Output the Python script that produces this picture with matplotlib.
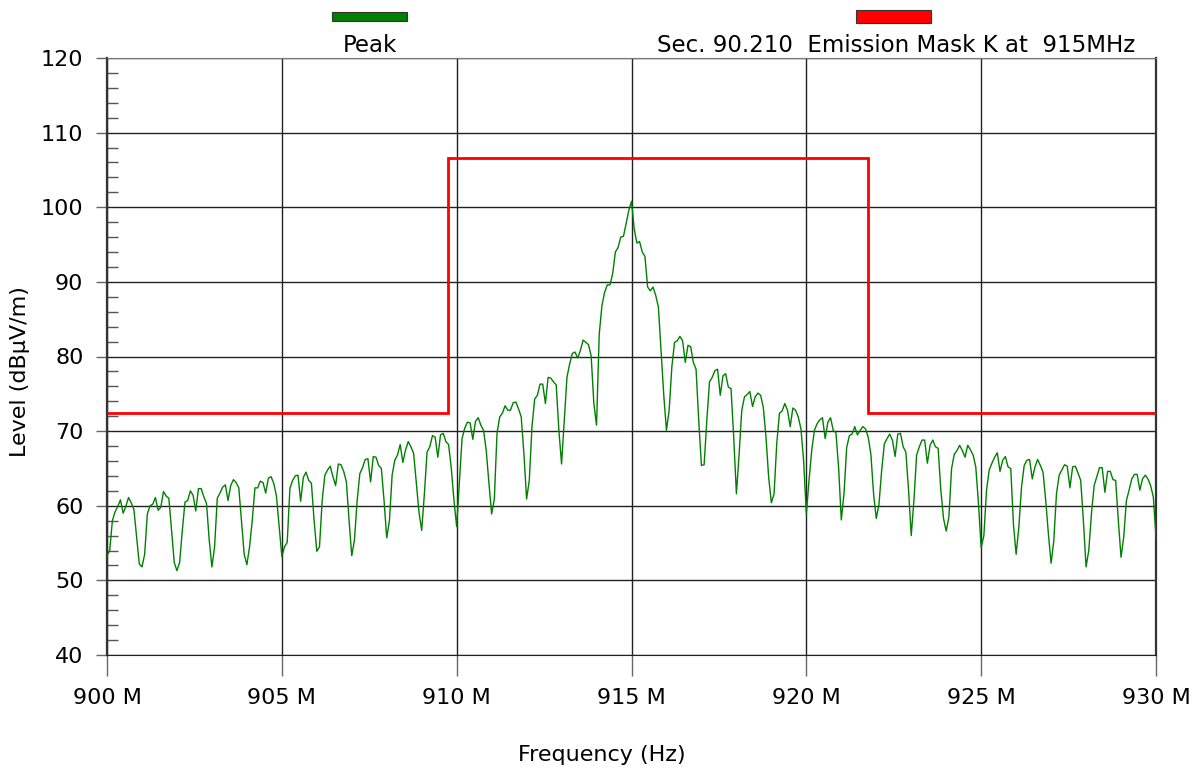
import matplotlib
matplotlib.use('Agg')
import matplotlib.pyplot as plt
from matplotlib.patches import Rectangle
from matplotlib.ticker import MultipleLocator, FuncFormatter
import numpy as np

# sweep 900 - 930 MHz, 13 points per MHz (peak detector trace, dBuV/m)
start_mhz = 900.0
stop_mhz = 930.0
peak_level = [
    53.3, 54.0, 58.0, 59.2, 59.9, 60.8, 59.0, 59.9, 61.1, 60.4, 59.5, 55.8, 52.2,   # 900
    51.8, 53.5, 58.9, 60.0, 60.2, 61.1, 59.4, 59.8, 61.9, 61.3, 61.0, 56.7, 52.4,   # 901
    51.3, 52.4, 56.7, 60.5, 60.7, 62.0, 61.4, 59.3, 62.3, 62.3, 61.2, 60.3, 55.4,   # 902
    51.8, 54.5, 61.0, 61.7, 62.5, 62.8, 60.7, 62.7, 63.5, 63.1, 62.4, 58.0, 53.5,   # 903
    52.1, 54.5, 58.0, 62.4, 62.4, 63.3, 63.1, 61.7, 63.7, 63.9, 63.0, 61.3, 57.2,   # 904
    53.2, 54.5, 55.1, 62.3, 63.4, 64.0, 64.1, 60.6, 63.8, 64.5, 63.4, 63.0, 58.0,   # 905
    53.9, 54.5, 60.7, 64.1, 64.8, 65.3, 63.9, 62.7, 65.6, 65.5, 64.6, 63.2, 58.0,   # 906
    53.3, 55.4, 60.7, 64.3, 65.1, 66.2, 66.3, 63.2, 66.6, 66.5, 65.4, 65.0, 60.7,   # 907
    55.7, 58.0, 64.1, 66.1, 66.8, 68.2, 65.8, 67.5, 68.6, 67.9, 67.0, 63.0, 59.1,   # 908
    56.7, 61.6, 67.2, 67.9, 69.4, 69.2, 66.5, 69.5, 69.7, 68.6, 68.2, 65.0, 60.7,   # 909
    57.2, 63.0, 69.0, 70.4, 71.2, 71.1, 68.9, 71.3, 71.8, 70.8, 70.1, 67.4, 63.0,   # 910
    58.9, 60.9, 69.7, 71.9, 72.4, 73.4, 72.8, 72.8, 73.8, 73.9, 73.0, 71.9, 67.0,   # 911
    60.9, 63.4, 70.6, 74.3, 74.8, 76.3, 76.3, 73.7, 77.2, 77.1, 76.6, 76.2, 70.1,   # 912
    65.6, 71.5, 77.2, 79.0, 80.4, 80.6, 79.8, 80.8, 82.2, 81.9, 81.6, 80.1, 73.7,   # 913
    70.8, 83.0, 86.8, 88.6, 89.6, 89.6, 91.1, 94.0, 94.6, 96.0, 96.1, 97.8, 99.6,   # 914
    100.8, 97.1, 95.2, 95.4, 94.0, 93.4, 89.3, 88.8, 89.3, 88.2, 86.6, 80.8, 74.8,  # 915
    70.1, 72.8, 78.6, 81.9, 82.1, 82.7, 82.1, 79.2, 81.5, 81.3, 79.2, 78.3, 71.4,   # 916
    65.4, 65.5, 71.4, 76.6, 77.2, 78.1, 78.3, 74.8, 77.4, 77.7, 75.9, 75.7, 69.2,   # 917
    61.6, 66.9, 72.8, 74.6, 74.9, 75.3, 73.3, 74.6, 75.1, 74.8, 73.2, 69.2, 63.8,   # 918
    60.4, 61.6, 68.3, 72.4, 72.7, 73.7, 72.8, 70.6, 73.1, 72.8, 71.9, 70.3, 66.0,   # 919
    58.9, 63.4, 67.4, 70.1, 71.0, 71.5, 71.8, 69.0, 71.2, 71.8, 70.1, 69.8, 65.1,   # 920
    58.1, 61.6, 67.8, 69.4, 69.6, 70.6, 69.5, 70.1, 70.6, 70.3, 69.2, 66.9, 61.6,   # 921
    58.3, 60.2, 64.7, 68.3, 69.0, 69.6, 68.8, 66.6, 69.6, 69.7, 67.9, 67.2, 62.1,   # 922
    56.0, 60.7, 66.8, 67.9, 68.8, 68.8, 65.7, 68.1, 68.8, 67.9, 67.7, 62.1, 58.3,   # 923
    56.6, 58.5, 65.0, 66.9, 67.4, 68.1, 67.4, 66.5, 68.1, 67.5, 66.8, 65.2, 60.3,   # 924
    54.4, 56.0, 62.1, 64.8, 65.7, 66.5, 67.1, 64.6, 66.1, 66.6, 65.2, 65.0, 57.5,   # 925
    53.5, 57.1, 62.5, 65.4, 66.1, 66.2, 63.6, 65.2, 66.2, 65.4, 64.5, 60.7, 56.2,   # 926
    52.3, 55.3, 61.6, 64.1, 64.8, 65.5, 65.3, 62.4, 65.2, 65.3, 64.4, 63.4, 58.0,   # 927
    51.8, 54.0, 58.9, 62.7, 63.9, 65.1, 65.1, 61.8, 64.6, 64.6, 63.5, 63.4, 58.0,   # 928
    53.1, 55.8, 60.7, 62.1, 63.6, 64.2, 64.2, 62.1, 63.6, 64.1, 63.6, 62.7, 61.2,   # 929
    55.8,
]

# Sec. 90.210 mask K
mask_edges = [900.0, 909.75, 921.75, 930.0]
mask_levels = [72.45, 106.55, 72.45]

x_ticks = [900, 905, 910, 915, 920, 925, 930]
y_ticks = [40, 50, 60, 70, 80, 90, 100, 110, 120]

freq = np.linspace(start_mhz, stop_mhz, len(peak_level))

fig = plt.figure(figsize=(12, 7.69), dpi=100)
ax = fig.add_axes([107 / 1200, 1 - 655 / 769, 1049 / 1200, 597 / 769])

ax.stairs(mask_levels, mask_edges, baseline=None, color='#ff0000', lw=2, zorder=3)
ax.plot(freq, peak_level, color='#008000', lw=1, zorder=4)

ax.set_xlim(start_mhz, stop_mhz)
ax.set_ylim(40, 120)
ax.set_xticks(x_ticks)
ax.set_yticks(y_ticks)
ax.yaxis.set_minor_locator(MultipleLocator(2))
ax.xaxis.set_major_formatter(FuncFormatter(lambda v, p: f'{v:.0f} M'))
ax.grid(True, which='major', color='#222222', lw=1)
ax.set_axisbelow(True)

ax.tick_params(axis='x', which='major', direction='out', length=15, width=1,
               color='#666666', labelsize=16, pad=9)
ax.tick_params(axis='y', which='major', direction='out', length=8, width=1,
               color='#666666', labelsize=16, pad=9)
ax.tick_params(axis='y', which='minor', direction='in', length=8, width=1,
               color='#555555')

for side in ['left', 'right']:
    ax.spines[side].set_linewidth(1.6)
    ax.spines[side].set_color('#333333')
ax.spines['top'].set_color('#777777')
ax.spines['bottom'].set_color('#222222')

fig.text(602 / 1200, 1 - 755 / 769, 'Frequency (Hz)', fontsize=16,
         ha='center', va='center')
fig.text(20 / 1200, 1 - 372 / 769, 'Level (dBµV/m)', fontsize=16,
         ha='center', va='center', rotation=90)

# legend along the top
fig.patches.append(Rectangle((332 / 1200, 1 - 20.7 / 769), 75 / 1200, 8.5 / 769,
                             transform=fig.transFigure, facecolor='#008000',
                             edgecolor='#333333', lw=0.8))
fig.patches.append(Rectangle((856 / 1200, 1 - 23.3 / 769), 75 / 1200, 13.3 / 769,
                             transform=fig.transFigure, facecolor='#ff0000',
                             edgecolor='#333333', lw=0.8))
fig.text(370 / 1200, 1 - 45 / 769, 'Peak', fontsize=16.5, ha='center', va='center')
fig.text(1135 / 1200, 1 - 45 / 769, 'Sec. 90.210  Emission Mask K at  915MHz',
         fontsize=16.5, ha='right', va='center')

fig.savefig('out.png', dpi=100)
plt.close()
